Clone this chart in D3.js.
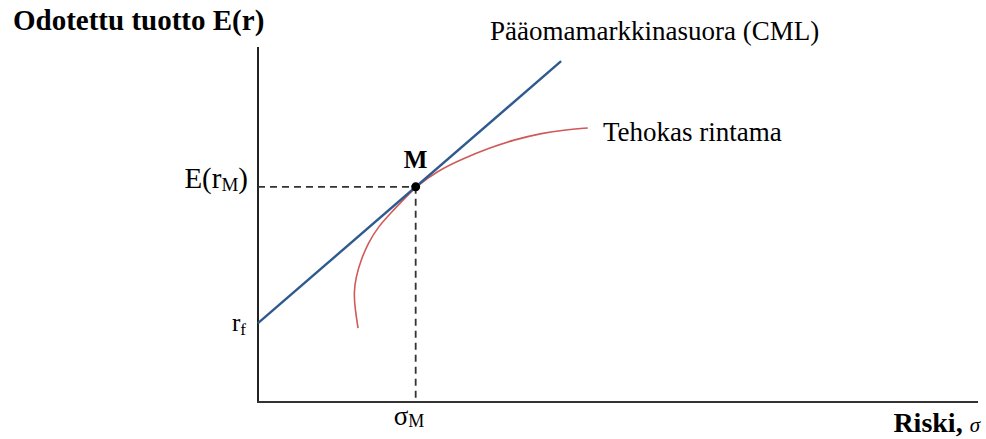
<!DOCTYPE html>
<html>
<head>
<meta charset="utf-8">
<script src="https://cdn.jsdelivr.net/npm/d3@7"></script>
<style>
  html, body { margin: 0; padding: 0; background: #fff; }
  svg { display: block; font-family: "Liberation Serif", "DejaVu Serif", serif; }
</style>
</head>
<body>
<div id="chart"></div>
<script>
// Capital market line and efficient frontier (abstract units, axis origin = 0,0)

//### DATA ###
const riskFree = 11.1;             // r_f
const market = [ 21.9, 30.3 ];     // sigma_M, E(r_M)
const cmlEndX = 42.1;              // where the CML stops on the right
// efficient frontier points [sigma, E(r)]
const frontierSigma = [ 13.9, 13.5, 13.3, 13.6, 14.3, 15.3, 16.7, 18.6, 20.4, 21.9, 25.0, 28.5, 32.2, 35.4, 39.6, 42.4, 45.8 ];
const frontierReturn = [ 10.4, 13.0, 15.4, 17.6, 20.0, 22.4, 24.7, 26.8, 28.7, 30.3, 32.6, 34.3, 35.8, 36.9, 37.9, 38.3, 38.6 ];

//### LAYOUT ###
const width = 986;
const height = 439;
const origin = { x: 258, y: 402 };
const xEnd = 978;
const yTop = 47;

const svg = d3.select( '#chart' )
  .append( 'svg' )
  .attr( 'width', width )
  .attr( 'height', height );

//>>> Scales
const x = d3.scaleLinear().domain( [ 0, 100 ] ).range( [ origin.x, xEnd ] );
const y = d3.scaleLinear().domain( [ 0, 50 ] ).range( [ origin.y, yTop ] );

//>>> Axes (plain lines)
svg.append( 'line' )
  .attr( 'x1', x( 0 ) ).attr( 'y1', y( 0 ) )
  .attr( 'x2', x( 0 ) ).attr( 'y2', yTop )
  .attr( 'stroke', '#222' ).attr( 'stroke-width', 2 );
svg.append( 'line' )
  .attr( 'x1', x( 0 ) - 1 ).attr( 'y1', y( 0 ) )
  .attr( 'x2', xEnd ).attr( 'y2', y( 0 ) )
  .attr( 'stroke', '#333' ).attr( 'stroke-width', 2 );

//>>> Dashed guides to M
svg.append( 'line' )
  .attr( 'x1', x( 0 ) ).attr( 'y1', y( market[ 1 ] ) )
  .attr( 'x2', x( market[ 0 ] ) ).attr( 'y2', y( market[ 1 ] ) )
  .attr( 'stroke', '#333' ).attr( 'stroke-width', 1.8 )
  .attr( 'stroke-dasharray', '7,5' );
svg.append( 'line' )
  .attr( 'x1', x( market[ 0 ] ) ).attr( 'y1', y( market[ 1 ] ) )
  .attr( 'x2', x( market[ 0 ] ) ).attr( 'y2', y( 0 ) )
  .attr( 'stroke', '#333' ).attr( 'stroke-width', 1.8 )
  .attr( 'stroke-dasharray', '7,5' );

//>>> Efficient frontier
const frontier = frontierSigma.map( ( s, i ) => [ s, frontierReturn[ i ] ] );
const line = d3.line()
  .x( d => x( d[ 0 ] ) )
  .y( d => y( d[ 1 ] ) )
  .curve( d3.curveBasis );

svg.append( 'path' )
  .datum( frontier )
  .attr( 'd', line )
  .attr( 'fill', 'none' )
  .attr( 'stroke', '#cf5a5a' )
  .attr( 'stroke-width', 1.6 );

//>>> CML
const slope = ( market[ 1 ] - riskFree ) / market[ 0 ];
const cml = [ [ 0, riskFree ], [ cmlEndX, riskFree + slope * cmlEndX ] ];
svg.append( 'path' )
  .datum( cml )
  .attr( 'd', d3.line().x( d => x( d[ 0 ] ) ).y( d => y( d[ 1 ] ) ) )
  .attr( 'fill', 'none' )
  .attr( 'stroke', '#2e5a8e' )
  .attr( 'stroke-width', 2.4 );

//>>> Market portfolio point
svg.append( 'circle' )
  .attr( 'cx', x( market[ 0 ] ) )
  .attr( 'cy', y( market[ 1 ] ) )
  .attr( 'r', 4.5 )
  .attr( 'fill', '#000' );

//_____ TEXTS _____
svg.append( 'text' )
  .attr( 'x', 13 ).attr( 'y', 30 )
  .style( 'font-size', '29px' ).style( 'font-weight', 'bold' )
  .text( 'Odotettu tuotto E(r)' );

svg.append( 'text' )
  .attr( 'x', 490 ).attr( 'y', 40 )
  .style( 'font-size', '27px' )
  .text( 'Pääomamarkkinasuora (CML)' );

svg.append( 'text' )
  .attr( 'x', 603 ).attr( 'y', 141 )
  .style( 'font-size', '27px' )
  .text( 'Tehokas rintama' );

svg.append( 'text' )
  .attr( 'x', x( market[ 0 ] ) - 12 ).attr( 'y', y( market[ 1 ] ) - 19 )
  .style( 'font-size', '25px' ).style( 'font-weight', 'bold' )
  .text( 'M' );

//>>> E(r_M) label
const erm = svg.append( 'text' )
  .attr( 'x', x( 0 ) - 10 ).attr( 'y', y( market[ 1 ] ) + 1 )
  .attr( 'text-anchor', 'end' )
  .style( 'font-size', '29px' );
erm.append( 'tspan' ).text( 'E(r' );
erm.append( 'tspan' ).attr( 'dy', 3 ).style( 'font-size', '19px' ).text( 'M' );
erm.append( 'tspan' ).attr( 'dy', -3 ).text( ')' );

//>>> r_f label
const rf = svg.append( 'text' )
  .attr( 'x', x( 0 ) - 12 ).attr( 'y', y( riskFree ) + 8 )
  .attr( 'text-anchor', 'end' )
  .style( 'font-size', '25px' );
rf.append( 'tspan' ).text( 'r' );
rf.append( 'tspan' ).attr( 'dy', 4 ).style( 'font-size', '17px' ).text( 'f' );

//>>> sigma_M label
const sm = svg.append( 'text' )
  .attr( 'x', x( market[ 0 ] ) - 22 ).attr( 'y', y( 0 ) + 23 )
  .style( 'font-size', '27px' );
sm.append( 'tspan' ).text( 'σ' );
sm.append( 'tspan' ).attr( 'dy', 2 ).style( 'font-size', '18px' ).text( 'M' );

//>>> x axis title
const risk = svg.append( 'text' )
  .attr( 'x', 980 ).attr( 'y', 432 )
  .attr( 'text-anchor', 'end' )
  .style( 'font-size', '28px' );
risk.append( 'tspan' ).style( 'font-weight', 'bold' ).text( 'Riski, ' );
risk.append( 'tspan' ).style( 'font-style', 'italic' ).style( 'font-size', '21px' ).text( 'σ' );
</script>
</body>
</html>
